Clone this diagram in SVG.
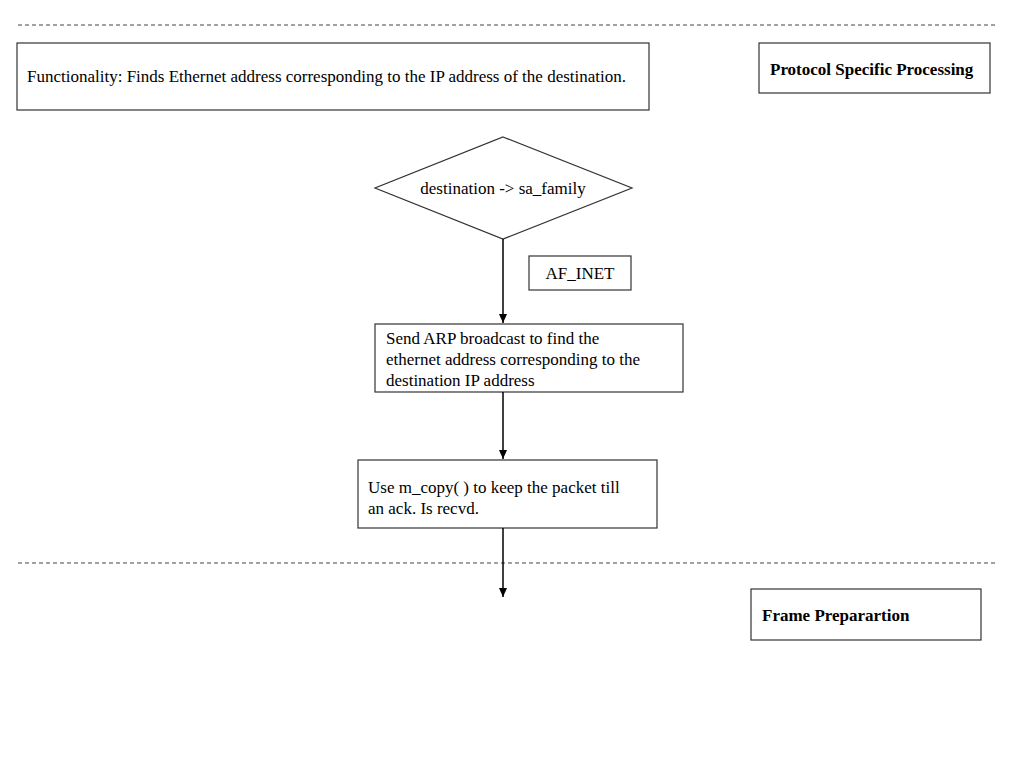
<svg xmlns="http://www.w3.org/2000/svg" width="1024" height="768" viewBox="0 0 1024 768">
<defs>
<marker id="arr" markerWidth="10" markerHeight="10" refX="9" refY="5" orient="auto" markerUnits="userSpaceOnUse">
<path d="M0,1 L9,5 L0,9 Z" fill="#000"/>
</marker>
<style>
.box{fill:#fff;stroke:#333;stroke-width:1.2}
.t{font-family:"Liberation Serif","Times New Roman",serif;font-size:17px;fill:#000}
.b{font-weight:bold}
.dash{stroke:#444;stroke-width:1;stroke-dasharray:4,3}
.conn{stroke:#000;stroke-width:1.5;fill:none}
</style>
</defs>
<rect width="1024" height="768" fill="#fff"/>
<g id="separators">
<line class="dash" x1="18" y1="25" x2="997" y2="25"/>
<line class="dash" x1="18" y1="563" x2="997" y2="563"/>
</g>
<g id="functionality">
<rect class="box" x="17" y="43" width="632" height="67"/>
<text class="t" x="27" y="82">Functionality: Finds Ethernet address corresponding to the IP address of the destination.</text>
</g>
<g id="protocol">
<rect class="box" x="759" y="43" width="231" height="50"/>
<text class="t b" x="770" y="75">Protocol Specific Processing</text>
</g>
<g id="decision">
<polygon class="box" points="503,137 632,188 503,239 375,188"/>
<text class="t" x="503" y="194" text-anchor="middle">destination -&gt; sa_family</text>
</g>
<g id="af_inet">
<rect class="box" x="529" y="256" width="102" height="34"/>
<text class="t" x="580" y="279" text-anchor="middle">AF_INET</text>
</g>
<g id="arp">
<rect class="box" x="375" y="324" width="308" height="68"/>
<text class="t" x="386" y="344">Send ARP broadcast to find the</text>
<text class="t" x="386" y="365">ethernet address corresponding to the</text>
<text class="t" x="386" y="386">destination IP address</text>
</g>
<g id="mcopy">
<rect class="box" x="358" y="460" width="299" height="68"/>
<text class="t" x="368" y="493">Use m_copy( ) to keep the packet till</text>
<text class="t" x="368" y="514">an ack. Is recvd.</text>
</g>
<g id="frame">
<rect class="box" x="751" y="589" width="230" height="51"/>
<text class="t b" x="762" y="621">Frame Preparartion</text>
</g>
<g id="connectors">
<line class="conn" x1="503" y1="239" x2="503" y2="323" marker-end="url(#arr)"/>
<line class="conn" x1="503" y1="392" x2="503" y2="459" marker-end="url(#arr)"/>
<line class="conn" x1="503" y1="528" x2="503" y2="597" marker-end="url(#arr)"/>
</g>
</svg>
